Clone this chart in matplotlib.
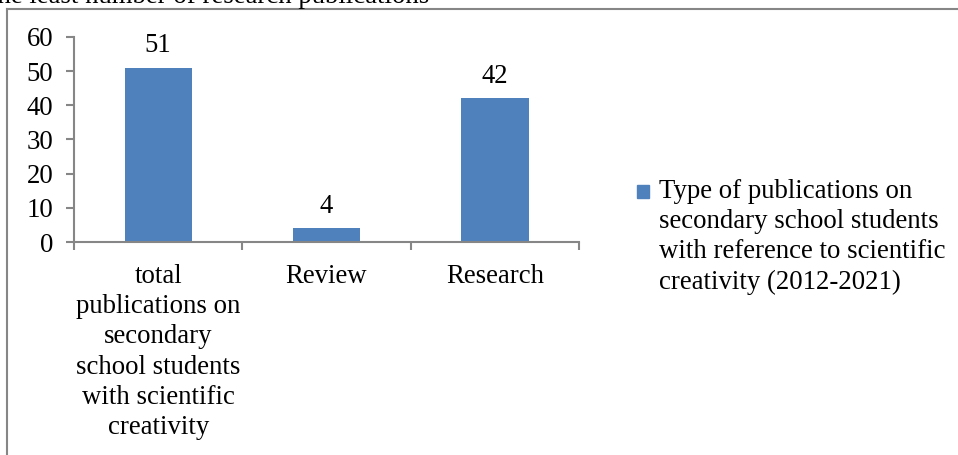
import matplotlib
matplotlib.use("Agg")
import matplotlib.pyplot as plt
from matplotlib.lines import Line2D
from matplotlib.patches import Rectangle
from matplotlib.legend_handler import HandlerPatch

categories = ["total\npublications on\nsecondary\nschool students\nwith scientific\ncreativity",
              "Review", "Research"]
values = [51, 4, 42]
series_name = "Type of publications on\nsecondary school students\nwith reference to scientific\ncreativity (2012-2021)"
yticks = [0, 10, 20, 30, 40, 50, 60]

W, H = 958, 455
plt.rcParams['font.family'] = ['Liberation Serif', 'DejaVu Serif']
FS = 19.3
LS = 1.27
gray = '#868686'
bar_color = '#4F81BD'

fig = plt.figure(figsize=(W / 100, H / 100), dpi=100)
ax = fig.add_axes([74 / W, 1 - 242 / H, (579 - 74) / W, (242 - 37) / H])

x = list(range(len(categories)))
bars = ax.bar(x, values, width=0.4, color=bar_color, label=series_name, zorder=2)
ax.set_xlim(-0.5, len(categories) - 0.5)
ax.set_ylim(0, 60)
ax.set_yticks(yticks)
ax.set_yticklabels([str(t) for t in yticks], fontsize=FS)
for s in ['top', 'right']:
    ax.spines[s].set_visible(False)
for s in ['left', 'bottom']:
    ax.spines[s].set_color(gray)
    ax.spines[s].set_linewidth(1.5)
ax.tick_params(axis='y', length=6, width=1.5, color=gray, pad=9, labelsize=FS)
ax.set_xticks([-0.5, 0.5, 1.5, 2.5])
ax.set_xticklabels([])
ax.tick_params(axis='x', length=6, width=1.5, color=gray, direction='out')
for xi, c in zip(x, categories):
    ax.annotate(c, xy=(xi, 0), xycoords=('data', 'axes fraction'), xytext=(0, -16),
                textcoords='offset points', ha='center', va='top', fontsize=FS,
                linespacing=LS)
for xi, v in zip(x, values):
    ax.annotate(str(v), xy=(xi, v), xytext=(0, 7), textcoords='offset points',
                ha='center', va='bottom', fontsize=FS)


def top_square(legend, orig_handle, xdescent, ydescent, width, height, fontsize):
    side = 9
    return Rectangle((-xdescent + (width - side) / 2, -ydescent + 35), side, side)


handle = Rectangle((0, 0), 1, 1, facecolor=bar_color, edgecolor=bar_color)
fig.legend([handle], [series_name], loc='upper left',
           bbox_to_anchor=(611 / W, 1 - 155 / H), frameon=False, fontsize=FS,
           handlelength=0.6, handletextpad=0.3,
           handler_map={Rectangle: HandlerPatch(patch_func=top_square)})
for t in fig.legends[0].get_texts():
    t.set_linespacing(LS)

# outer frame (partial)
fig.add_artist(Line2D([7 / W, 7 / W], [0, 1 - 9 / H], color=gray, lw=1.5))
fig.add_artist(Line2D([7 / W, 1], [1 - 9 / H, 1 - 9 / H], color=gray, lw=1.5))

fig.text(-10 / W, 1 - 3 / H, "the least number of research publications", fontsize=FS,
         ha='left', va='baseline')

fig.savefig("out.png", dpi=100)
